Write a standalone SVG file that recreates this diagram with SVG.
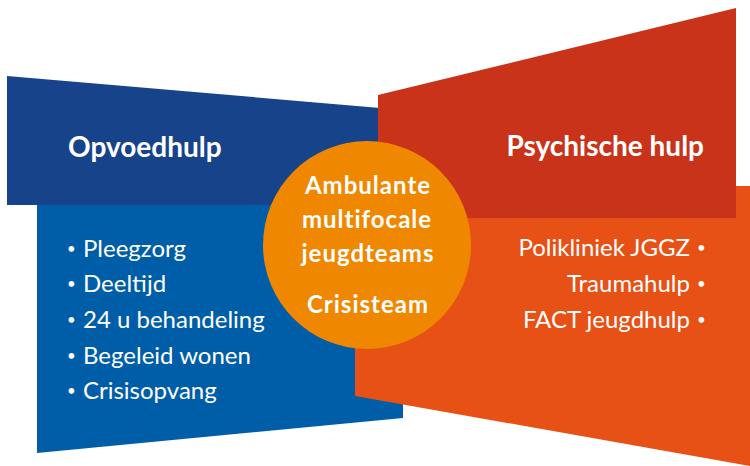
<svg xmlns="http://www.w3.org/2000/svg" width="750" height="466" viewBox="0 0 750 466">
<style>
text{font-family:Lato,"Open Sans","Liberation Sans",sans-serif;fill:#fff}
.title{font-size:28px;font-weight:700}
.item{font-size:24px;font-weight:400}
.b{font-size:15px}
.center{font-size:24px;font-weight:700;text-anchor:middle;letter-spacing:1px}
.r{text-anchor:end}
</style>
<rect width="750" height="466" fill="#fff"/>
<g id="opvoedhulp-list">
<polygon points="37,205 403,205 403,418 37,453" fill="#005EA8"/>
<text class="item" y="257"><tspan class="b" x="67" dy="-3">•</tspan><tspan x="83" dy="3">Pleegzorg</tspan></text>
<text class="item" y="292"><tspan class="b" x="67" dy="-3">•</tspan><tspan x="83" dy="3">Deeltijd</tspan></text>
<text class="item" y="328"><tspan class="b" x="67" dy="-3">•</tspan><tspan x="83" dy="3">24 u behandeling</tspan></text>
<text class="item" y="364"><tspan class="b" x="67" dy="-3">•</tspan><tspan x="83" dy="3">Begeleid wonen</tspan></text>
<text class="item" y="399"><tspan class="b" x="67" dy="-3">•</tspan><tspan x="83" dy="3">Crisisopvang</tspan></text>
</g>
<g id="opvoedhulp">
<polygon points="7,76 380,108 380,205 7,205" fill="#17438A"/>
<text class="title" x="68" y="157">Opvoedhulp</text>
</g>
<g id="psychische-list">
<polygon points="355,186 750,186 750,466 355,396" fill="#E85116"/>
<text class="item r" x="690" y="256">Polikliniek JGGZ</text>
<text class="item r" x="690" y="292">Traumahulp</text>
<text class="item r" x="690" y="328">FACT jeugdhulp</text>
<text class="item b" x="697" y="253">•</text>
<text class="item b" x="697" y="289">•</text>
<text class="item b" x="697" y="325">•</text>
</g>
<g id="psychische-hulp">
<polygon points="378,95 736,8 736,218 378,218" fill="#C8331A"/>
<text class="title" x="704" y="156" text-anchor="end">Psychische hulp</text>
</g>
<g id="jeugdteams">
<circle cx="367" cy="245" r="104" fill="#F08700"/>
<text class="center" x="368" y="194">Ambulante</text>
<text class="center" x="367" y="228">multifocale</text>
<text class="center" x="368" y="262">jeugdteams</text>
<text class="center" x="368" y="313">Crisisteam</text>
</g>
</svg>
